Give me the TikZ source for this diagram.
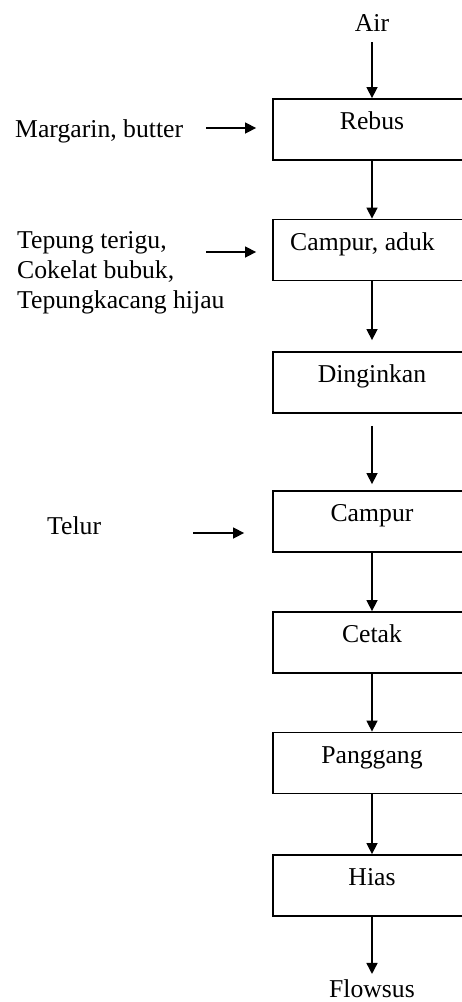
\documentclass[tikz,border=0pt]{standalone}
\usepackage{fontspec}
\setmainfont{Liberation Serif}
\usetikzlibrary{arrows.meta}
\begin{document}
\begin{tikzpicture}[x=1pt,y=-1pt,
  every node/.style={font=\fontsize{25.7pt}{30pt}\selectfont, inner sep=0pt},
  stepbox/.style={draw, line width=1.8pt, minimum width=198pt,
    text height=30.5pt, text depth=30.5pt},
  label/.style={anchor=base west},
  arr/.style={line width=1.5pt, -{Triangle[length=11pt,width=11pt]}}]
\useasboundingbox (0,0) rectangle (462,1002);
\clip (0,0) rectangle (462,1002);

% process steps
\node[stepbox] (rebus)    at (372,129.5) {Rebus};
\node[stepbox] (campur1)  at (372,250)   {Campur, aduk\hspace*{19pt}};
\node[stepbox] (dingin)   at (372,382.5) {Dinginkan};
\node[stepbox] (campur2)  at (372,521.5) {Campur};
\node[stepbox] (cetak)    at (372,642.5) {Cetak};
\node[stepbox] (panggang) at (372,763)   {Panggang};
\node[stepbox] (hias)     at (372,885.5) {Hias};

% top input and final product
\node[anchor=base] (air) at (372,31) {Air};
\node[anchor=base] (flowsus) at (372,997) {Flowsus};

% side inputs
\node[label] (margarin) at (15,137.6) {Margarin, butter};
\node[label] (tepung1) at (17,248) {Tepung terigu,};
\node[label] (tepung2) at (17,278) {Cokelat bubuk,};
\node[label] (tepung3) at (17,308) {Tepungkacang hijau};
\node[label] (telur) at (47,534) {Telur};

\coordinate (mIn) at (206,128);
\coordinate (tIn) at (206,252);
\coordinate (eIn) at (193,533);

% main flow
\draw[arr, shorten <=11pt] (air.south) -- (rebus.north);
\draw[arr] (rebus.south) -- (campur1.north);
\draw[arr, shorten >=11pt] (campur1.south) -- (dingin.north);
\draw[arr, shorten <=12pt, shorten >=6pt] (dingin.south) -- (campur2.north);
\draw[arr] (campur2.south) -- (cetak.north);
\draw[arr] (cetak.south) -- (panggang.north);
\draw[arr] (panggang.south) -- (hias.north);
\draw[arr, shorten >=5pt] (hias.south) -- (flowsus.north);

% side inputs into steps
\draw[arr, shorten >=16pt] (mIn) -- (mIn -| rebus.west);
\draw[arr, shorten >=16pt] (tIn) -- (tIn -| campur1.west);
\draw[arr, shorten >=28pt] (eIn) -- (eIn -| campur2.west);
\end{tikzpicture}
\end{document}
